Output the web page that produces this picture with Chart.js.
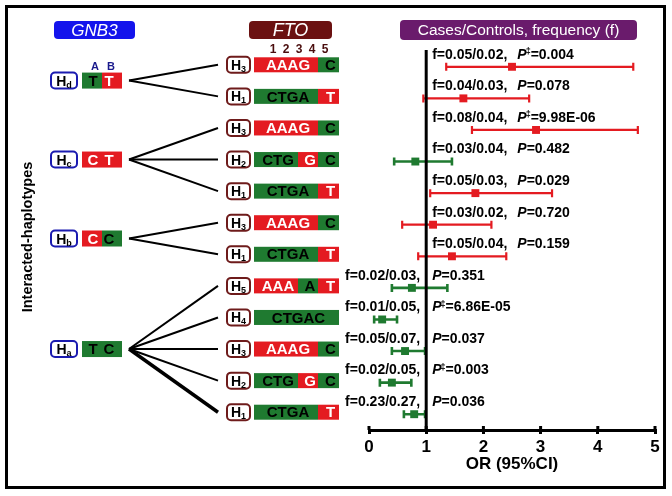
<!DOCTYPE html>
<html>
<head>
<meta charset="utf-8">
<script src="https://cdn.jsdelivr.net/npm/chart.js@4.4.0/dist/chart.umd.min.js"></script>
<style>
  body { margin: 0; background: #fff; }
  canvas { display: block; }
</style>
</head>
<body>
<canvas id="chart" width="672" height="496"></canvas>
<script>
// GNB3 haplotypes and which forest rows (1-based) they pair with
const gnb3Names = ['d', 'c', 'b', 'a'];
const gnb3Alleles = ['TT', 'CT', 'CC', 'TC'];
const gnb3Rows = [[1, 2], [3, 4, 5], [6, 7], [8, 9, 10, 11, 12]];

// FTO haplotype of each row, top to bottom
const ftoNames = ['3', '1', '3', '2', '1', '3', '1', '5', '4', '3', '2', '1'];
const ftoAlleles = ['AAAGC', 'CTGAT', 'AAAGC', 'CTGGC', 'CTGAT', 'AAAGC', 'CTGAT',
                    'AAAAT', 'CTGAC', 'AAAGC', 'CTGGC', 'CTGAT'];

// odds ratios with 95% CI
const oddsRatio = [2.50, 1.65, 2.92, 0.81, 1.86, 1.12, 1.45, 0.75, 0.23, 0.63, 0.40, 0.79];
const ciLow     = [1.35, 0.95, 1.80, 0.44, 1.07, 0.58, 0.86, 0.40, 0.09, 0.40, 0.19, 0.61];
const ciHigh    = [4.62, 2.80, 4.70, 1.45, 3.20, 2.14, 2.40, 1.37, 0.49, 0.98, 0.74, 0.98];

const freqText = ['f=0.05/0.02,', 'f=0.04/0.03,', 'f=0.08/0.04,', 'f=0.03/0.04,',
                  'f=0.05/0.03,', 'f=0.03/0.02,', 'f=0.05/0.04,', 'f=0.02/0.03,',
                  'f=0.01/0.05,', 'f=0.05/0.07,', 'f=0.02/0.05,', 'f=0.23/0.27,'];
const pValue = ['0.004', '0.078', '9.98E-06', '0.482', '0.029', '0.720', '0.159',
                '0.351', '6.86E-05', '0.037', '0.003', '0.036'];
const pCorrected = [true, false, true, false, false, false, false, false, true, false, true, false];

const xTicks = [0, 1, 2, 3, 4, 5];

const RED = '#e41b21';
const GREEN = '#1f7a30';
const FONT = '"Liberation Sans", Arial, sans-serif';
// allele that is drawn green at each position, the other one is red
const gnb3Green = 'TC';
const ftoGreen = 'CTGAC';

function rrect(ctx, x, y, w, h, r) {
  ctx.beginPath();
  ctx.moveTo(x + r, y);
  ctx.arcTo(x + w, y, x + w, y + h, r);
  ctx.arcTo(x + w, y + h, x, y + h, r);
  ctx.arcTo(x, y + h, x, y, r);
  ctx.arcTo(x, y, x + w, y, r);
  ctx.closePath();
}

function hLabel(ctx, x, y, w, sub, border) {
  rrect(ctx, x, y - 8, w, 16, 4);
  ctx.fillStyle = '#fff';
  ctx.fill();
  ctx.lineWidth = 2;
  ctx.strokeStyle = border;
  ctx.stroke();
  ctx.font = 'bold 14px ' + FONT;
  const hw = ctx.measureText('H').width;
  ctx.font = 'bold 9px ' + FONT;
  const sw = ctx.measureText(sub).width;
  const sx = x + (w - hw - sw) / 2;
  ctx.fillStyle = '#000';
  ctx.textAlign = 'left';
  ctx.textBaseline = 'alphabetic';
  ctx.font = 'bold 14px ' + FONT;
  ctx.fillText('H', sx, y + 5);
  ctx.font = 'bold 9px ' + FONT;
  ctx.fillText(sub, sx + hw, y + 7);
}

function header(ctx, x, y, w, h, fill, text, font) {
  rrect(ctx, x, y, w, h, 4);
  ctx.fillStyle = fill;
  ctx.fill();
  ctx.fillStyle = '#fff';
  ctx.font = font;
  ctx.textAlign = 'center';
  ctx.textBaseline = 'middle';
  ctx.fillText(text, x + w / 2, y + h / 2 + 1);
}

const forestPlugin = {
  id: 'forest',
  beforeDatasetsDraw(chart) {
    const {ctx, scales: {x, y}, chartArea} = chart;
    ctx.save();
    // confidence intervals
    oddsRatio.forEach((v, i) => {
      const yy = y.getPixelForValue(i + 1);
      const x0 = x.getPixelForValue(ciLow[i]);
      const x1 = x.getPixelForValue(ciHigh[i]);
      ctx.strokeStyle = v > 1 ? RED : GREEN;
      ctx.lineWidth = v > 1 ? 2.2 : 2.6;
      ctx.beginPath();
      ctx.moveTo(x0, yy); ctx.lineTo(x1, yy);
      ctx.moveTo(x0, yy - 4); ctx.lineTo(x0, yy + 4);
      ctx.moveTo(x1, yy - 4); ctx.lineTo(x1, yy + 4);
      ctx.stroke();
    });
    // reference line at OR = 1
    const xr = x.getPixelForValue(1);
    ctx.strokeStyle = '#000';
    ctx.lineWidth = 3;
    ctx.beginPath();
    ctx.moveTo(xr, chartArea.top - 1);
    ctx.lineTo(xr, chartArea.bottom);
    ctx.stroke();
    // tick marks above the axis
    xTicks.forEach(t => {
      const xt = x.getPixelForValue(t);
      ctx.beginPath();
      ctx.moveTo(xt, chartArea.bottom);
      ctx.lineTo(xt, chartArea.bottom - 4);
      ctx.stroke();
    });
    // frequency / P labels
    oddsRatio.forEach((v, i) => {
      const yy = y.getPixelForValue(i + 1) - 12;
      ctx.fillStyle = '#000';
      ctx.textBaseline = 'middle';
      ctx.textAlign = 'left';
      ctx.font = 'bold 14px ' + FONT;
      const fw = ctx.measureText(freqText[i]).width;
      let fx, px;
      if (i < 7) { fx = xr + 6; px = fx + fw + 10; }
      else { fx = xr - 6 - fw; px = xr + 6; }
      ctx.fillText(freqText[i], fx, yy);
      ctx.font = 'italic bold 14px ' + FONT;
      ctx.fillText('P', px, yy);
      px += ctx.measureText('P').width;
      if (pCorrected[i]) {
        ctx.font = 'bold 9px ' + FONT;
        ctx.fillText('\u2021', px - 1, yy - 3);
        px += ctx.measureText('\u2021').width - 1;
      }
      ctx.font = 'bold 14px ' + FONT;
      ctx.fillText('=' + pValue[i], px, yy);
    });
    ctx.restore();
  },
  afterDraw(chart) {
    const {ctx, scales: {y}} = chart;
    ctx.save();
    // frame
    ctx.strokeStyle = '#000';
    ctx.lineWidth = 3;
    ctx.strokeRect(6.5, 6.5, 658, 481);

    header(ctx, 54, 21, 81, 18, '#1414ec', 'GNB3', 'italic 17px ' + FONT);
    header(ctx, 249, 21, 83, 18, '#6b1111', 'FTO', 'italic 18px ' + FONT);
    header(ctx, 400, 20, 237, 20, '#6a1b6c', 'Cases/Controls, frequency (f)', '15.5px ' + FONT);

    // axis title for the haplotype diagram
    ctx.save();
    ctx.translate(28, 237);
    ctx.rotate(-Math.PI / 2);
    ctx.fillStyle = '#000';
    ctx.font = 'bold 14.5px ' + FONT;
    ctx.textAlign = 'center';
    ctx.textBaseline = 'middle';
    ctx.fillText('Interacted-haplotypes', 0, 0);
    ctx.restore();

    const rowY = r => y.getPixelForValue(r) - 2;

    // FTO position numbers
    ctx.fillStyle = '#4a0d0d';
    ctx.font = 'bold 12px ' + FONT;
    ctx.textAlign = 'center';
    ctx.textBaseline = 'middle';
    ['1', '2', '3', '4', '5'].forEach((n, k) => ctx.fillText(n, 273 + k * 13, 50));

    // FTO haplotype bars
    const edges = [254, 268.7, 283.3, 298, 318, 339];
    ftoAlleles.forEach((seq, i) => {
      const yy = rowY(i + 1);
      hLabel(ctx, 227, yy, 23, ftoNames[i], '#6e1b1b');
      let k = 0;
      while (k < 5) {
        const green = seq[k] === ftoGreen[k];
        let j = k;
        while (j + 1 < 5 && (seq[j + 1] === ftoGreen[j + 1]) === green) j++;
        const x0 = edges[k], x1 = edges[j + 1];
        ctx.fillStyle = green ? GREEN : RED;
        ctx.fillRect(x0, yy - 7.5, x1 - x0, 15);
        ctx.fillStyle = green ? '#000' : '#fff';
        ctx.font = 'bold 15px ' + FONT;
        ctx.textAlign = 'center';
        ctx.textBaseline = 'middle';
        ctx.fillText(seq.slice(k, j + 1), (x0 + x1) / 2 + 2, yy + 1);
        k = j + 1;
      }
    });

    // GNB3 haplotypes and the fans to their FTO partners
    gnb3Names.forEach((nm, g) => {
      const rows = gnb3Rows[g];
      const cy = rows.reduce((s, r) => s + rowY(r), 0) / rows.length;
      hLabel(ctx, 51, cy, 26, nm, '#1b1bb0');
      [0, 1].forEach(k => {
        const green = gnb3Alleles[g][k] === gnb3Green[k];
        ctx.fillStyle = green ? GREEN : RED;
        ctx.fillRect(82 + k * 20, cy - 8, 20, 16);
      });
      [0, 1].forEach(k => {
        const green = gnb3Alleles[g][k] === gnb3Green[k];
        ctx.fillStyle = green ? '#000' : '#fff';
        ctx.font = 'bold 15px ' + FONT;
        ctx.textAlign = 'center';
        ctx.textBaseline = 'middle';
        ctx.fillText(gnb3Alleles[g][k], 93 + k * 16, cy + 1);
      });
      ctx.strokeStyle = '#000';
      rows.forEach((r, k) => {
        ctx.lineWidth = (g === 3 && k === rows.length - 1) ? 3.5 : 2;
        ctx.beginPath();
        ctx.moveTo(129, cy);
        ctx.lineTo(218, rowY(r));
        ctx.stroke();
      });
    });

    // SNP letters above the first GNB3 haplotype
    ctx.fillStyle = '#1a1a8c';
    ctx.font = 'bold 11px ' + FONT;
    ctx.textAlign = 'center';
    const y0 = rowY(1) / 2 + rowY(2) / 2 - 14;
    ctx.fillText('A', 95, y0);
    ctx.fillText('B', 111, y0);
    ctx.restore();
  }
};

new Chart(document.getElementById('chart'), {
  type: 'scatter',
  data: {
    datasets: [{
      data: oddsRatio.map((v, i) => ({x: v, y: i + 1})),
      pointStyle: 'rect',
      pointRadius: 5.6,
      backgroundColor: oddsRatio.map(v => v > 1 ? RED : GREEN),
      borderWidth: 0
    }]
  },
  options: {
    responsive: false,
    animation: false,
    devicePixelRatio: 1,
    layout: {padding: {left: 369, right: 17, top: 51, bottom: 0}},
    plugins: {legend: {display: false}, tooltip: {enabled: false}},
    scales: {
      x: {
        type: 'linear',
        min: 0,
        max: 5,
        afterFit: s => { s.height = 66; },
        afterBuildTicks: s => { s.ticks = xTicks.map(v => ({value: v})); },
        border: {display: true, color: '#000', width: 3},
        grid: {drawOnChartArea: false, drawTicks: true, tickLength: 4, color: '#000', lineWidth: 3},
        ticks: {color: '#000', font: {family: FONT, size: 17, weight: 'bold'}, padding: 3},
        title: {
          display: true,
          text: 'OR (95%CI)',
          color: '#000',
          font: {family: FONT, size: 17, weight: 'bold'},
          padding: {top: 0, bottom: 21}
        }
      },
      y: {
        type: 'linear',
        display: false,
        min: 0.5,
        max: 12.5,
        reverse: true
      }
    }
  },
  plugins: [forestPlugin]
});
</script>
</body>
</html>
